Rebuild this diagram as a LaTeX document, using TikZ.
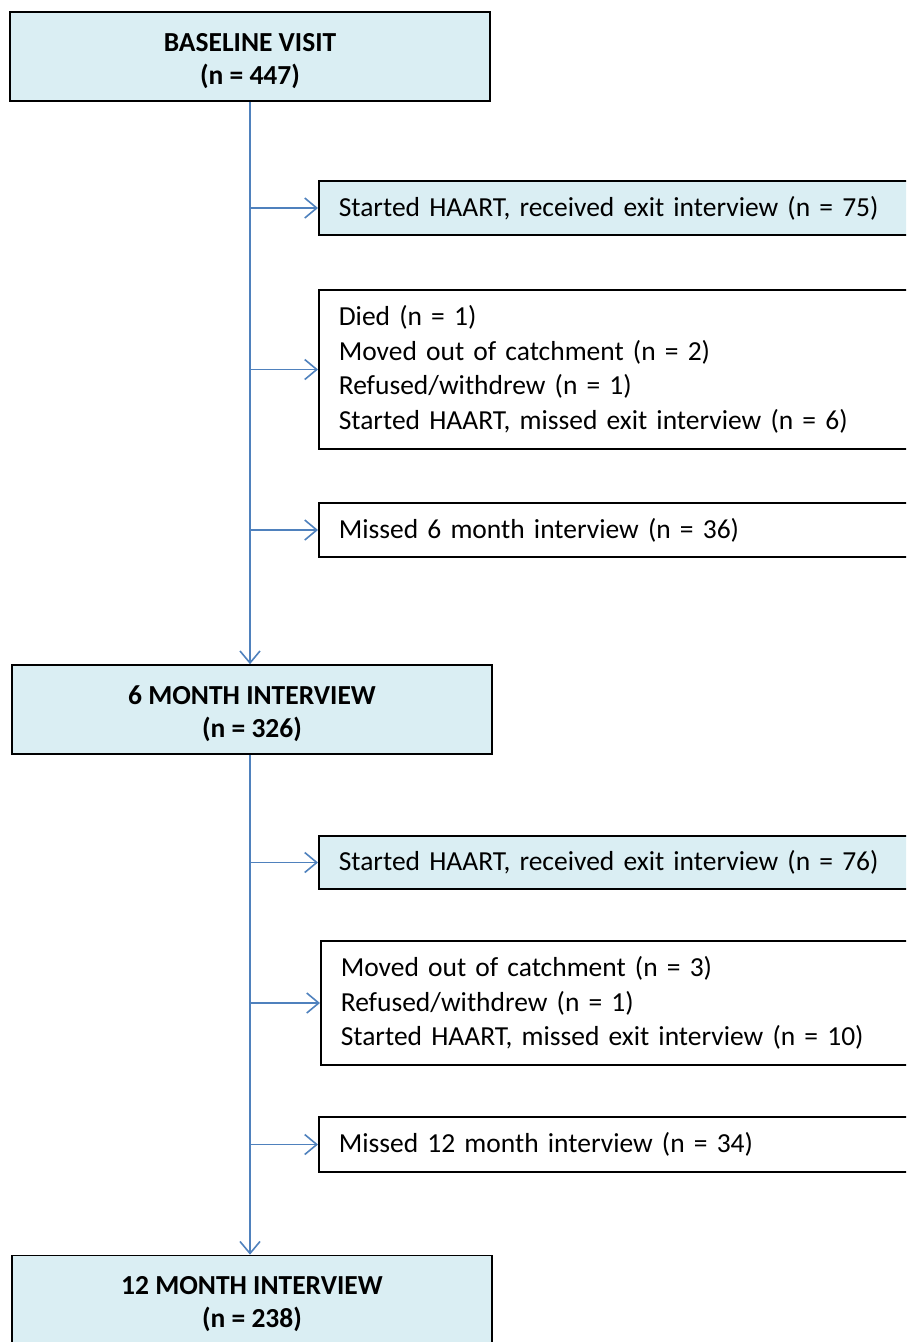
\documentclass[tikz,border=0pt]{standalone}
\usepackage{fontspec}
\setmainfont{Carlito}
\usetikzlibrary{positioning,arrows.meta}
\definecolor{stagefill}{HTML}{DAEEF3}
\definecolor{flowblue}{HTML}{4F81BD}
\newcommand{\stagepad}{\rule{0pt}{27pt}}
\tikzset{
  stage/.style={rectangle,draw,line width=1.6pt,fill=stagefill,minimum width=480pt,minimum height=89pt,
                align=center,inner sep=0pt,font=\bfseries\fontsize{27.5}{33}\selectfont},
  side/.style={rectangle,draw,line width=1.6pt,anchor=west,text width=580pt,inner xsep=20pt,inner ysep=0pt,
               align=left,font=\fontsize{27.5}{34.5}\selectfont},
  exitbox/.style={side,fill=stagefill},
  flow/.style={draw=flowblue,line width=1.6pt,-{Straight Barb[length=12pt,width=20pt]}},
}
\begin{document}
\begin{tikzpicture}[x=1pt,y=-1pt]
  \useasboundingbox (0,0) rectangle (906,1342);
  \clip (0,0) rectangle (906,1342);
  % ---- stages ----
  \node[stage] (base) at (250,56.5) {\stagepad BASELINE VISIT\\(n = 447)};
  \node[stage] (m6) at (252,709.5) {\stagepad 6 MONTH INTERVIEW\\(n = 326)};
  \node[stage] (m12) at (252,1300) {\stagepad 12 MONTH INTERVIEW\\(n = 238)};
  % ---- losses before 6 months ----
  \node[exitbox,minimum height=54pt] (exit1) at (318,208) {Started HAART, received exit interview (n = 75)};
  \node[side,minimum height=159pt] (lost1) at (318,369.5) {Died (n = 1)\\Moved out of catchment (n = 2)\\Refused/withdrew (n = 1)\\Started HAART, missed exit interview (n = 6)};
  \node[side,minimum height=54pt] (miss1) at (318,530) {Missed 6 month interview (n = 36)};
  % ---- losses before 12 months ----
  \node[exitbox,minimum height=53pt] (exit2) at (318,862.5) {Started HAART, received exit interview (n = 76)};
  \node[side,minimum height=124pt] (lost2) at (320,1003) {Moved out of catchment (n = 3)\\Refused/withdrew (n = 1)\\Started HAART, missed exit interview (n = 10)};
  \node[side,minimum height=55pt] (miss2) at (318,1144.5) {Missed 12 month interview (n = 34)};
  % ---- edges ----
  \draw[flow] (base.south) -- (base.south |- m6.north);
  \draw[flow] (base.south |- m6.south) -- (base.south |- m12.north);
  \draw[flow] (base.south |- exit1.west) -- (exit1.west);
  \draw[flow] (base.south |- lost1.west) -- (lost1.west);
  \draw[flow] (base.south |- miss1.west) -- (miss1.west);
  \draw[flow] (base.south |- exit2.west) -- (exit2.west);
  \draw[flow] (base.south |- lost2.west) -- (lost2.west);
  \draw[flow] (base.south |- miss2.west) -- (miss2.west);
\end{tikzpicture}
\end{document}
